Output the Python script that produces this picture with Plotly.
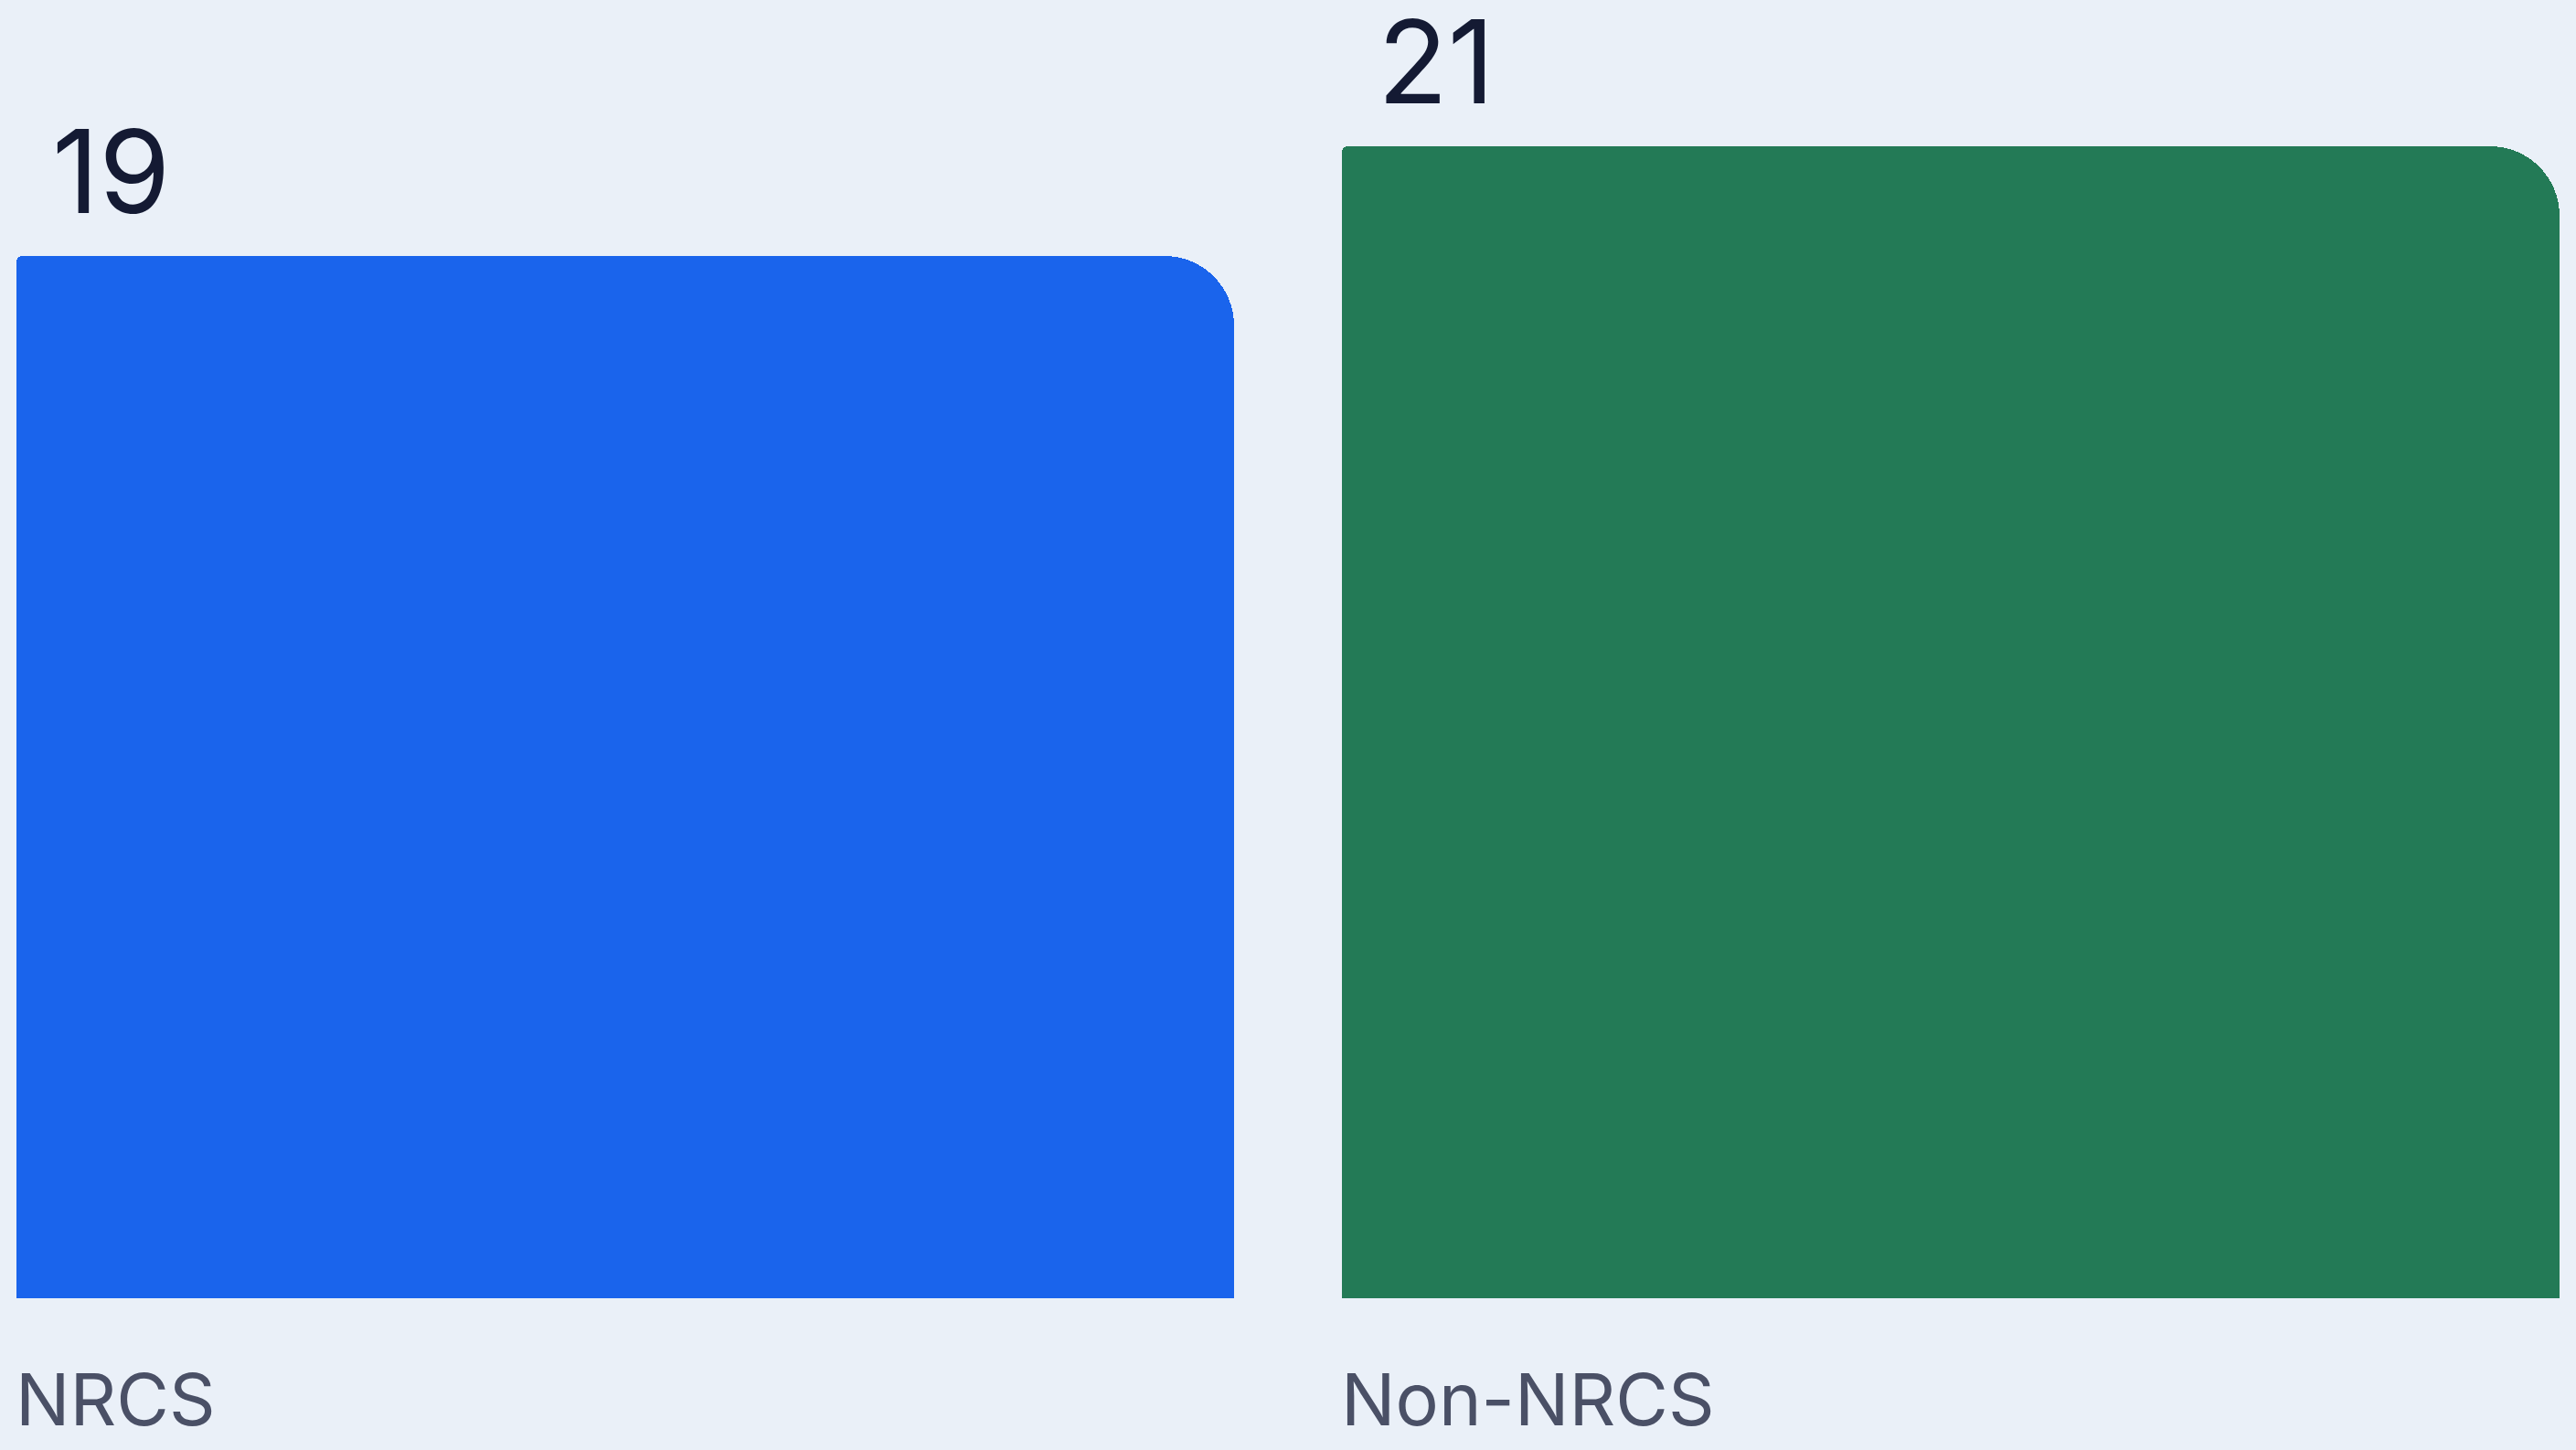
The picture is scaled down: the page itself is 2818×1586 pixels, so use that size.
import plotly.graph_objects as go

categories = ["NRCS", "Non-NRCS"]
values = [19, 21]
colors = ["#1a64ec", "#237a56"]

x_pos = list(range(len(categories)))
bar_w = 0.9186

fig = go.Figure()
# main bars with rounded top corners
fig.add_trace(go.Bar(
    x=x_pos, y=values, width=bar_w,
    marker=dict(color=colors, cornerradius=76, line=dict(width=0)),
    hoverinfo="skip", showlegend=False,
))
# left halves with near-square corners so only the top-right corner is rounded
fig.add_trace(go.Bar(
    x=x_pos, y=values, width=bar_w / 2, offset=-bar_w / 2,
    marker=dict(color=colors, cornerradius=6, line=dict(width=0)),
    hoverinfo="skip", showlegend=False,
))

for i, (cat, v) in enumerate(zip(categories, values)):
    fig.add_annotation(
        x=i - bar_w / 2, y=v, xref="x", yref="y",
        text=str(v), showarrow=False, xanchor="left", yanchor="bottom",
        xshift=38, yshift=16, borderpad=0,
        font=dict(family="Inter", size=126, color="#141a33"),
    )
    fig.add_annotation(
        x=i - bar_w / 2, y=0, xref="x", yref="y",
        text=cat, showarrow=False, xanchor="left", yanchor="top",
        xshift=-2, yshift=-61, borderpad=0,
        font=dict(family="Inter", size=79, color="#4a5066"),
    )

fig.update_layout(
    width=2818, height=1586,
    margin=dict(l=0, r=0, t=0, b=166),
    paper_bgcolor="#eaf0f8", plot_bgcolor="#eaf0f8",
    barmode="overlay", bargap=0,
    xaxis=dict(range=[-0.4717, 1.4717], visible=False, fixedrange=True),
    yaxis=dict(range=[0, 23.667], visible=False, fixedrange=True),
)

fig.write_html(
    "out.html",
    config={"displayModeBar": False},
    post_script="document.body.style.margin='0';document.body.style.background='#eaf0f8';document.body.style.overflow='hidden';",
)
